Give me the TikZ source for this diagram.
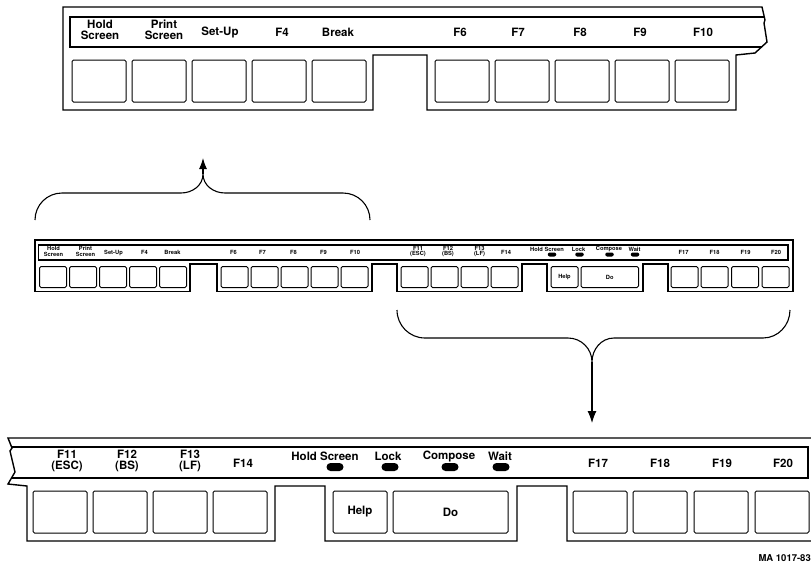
\documentclass[tikz,border=0pt]{standalone}
\usepackage{fontspec}
\setmainfont{TeX Gyre Heros}
\usetikzlibrary{arrows.meta,shapes.misc}

\tikzset{
  frame/.style={line width=1.4pt, line join=miter},
  key/.style={draw, line width=1pt, rounded corners=1.5pt, minimum width=54pt, minimum height=42pt,
    inner sep=0pt, font=\bfseries\fontsize{11.5}{11.5}\selectfont},
  keylabel/.style={font=\bfseries\fontsize{11.5}{11.5}\selectfont, align=center, inner sep=0pt},
  led/.style={rounded rectangle, fill=black, minimum width=17pt, minimum height=8pt, inner sep=0pt},
  brace/.style={line width=1.1pt},
}

% keys F1..F10 with their labels
\newcommand\leftkeys{%
  \foreach \kx [count=\i] in {9,69,129,189,249,372,432,492,552,612}
    \node[key] (k\i) at (\kx+27,-74) {};
  \node[keylabel] (l1) at (37,-23) {Hold\\Screen};
  \node[keylabel] (l2) at (101,-23) {Print\\Screen};
  \foreach \lx/\kl [count=\i from 3] in {157/Set-Up,219/F4,275/Break,397/F6,455/F7,517/F8,577/F9,640/F10}
    \node[keylabel] (l\i) at (\lx,-25) {\kl};
}

% keys F11..F20, Help, Do and the lights
\newcommand\rightkeys{%
  \foreach \kx [count=\i from 11] in {732,792,852,912,1272,1332,1393,1454}
    \node[key] (k\i) at (\kx+27,-74) {};
  \node[key] (help) at (1059,-74) {Help};
  \node[key, minimum width=115pt] (do) at (1149.5,-74) {Do};
  \foreach \lx/\kl [count=\i from 11] in {766/{F11\\(ESC)},826/{F12\\(BS)},889/{F13\\(LF)}}
    \node[keylabel] (l\i) at (\lx,-23) {\kl};
  \foreach \lx/\kl [count=\i from 14] in {942/F14,1297/F17,1359/F18,1421/F19,1482/F20}
    \node[keylabel] (l\i) at (\lx,-25) {\kl};
  \foreach \lx/\dx/\kl [count=\i] in {1024/1034/Hold Screen,1087/1089/Lock,1148/1149/Compose,1199/1200/Wait} {
    \node[keylabel] (t\i) at (\lx,-18) {\kl};
    \node[led] (led\i) at (\dx,-29) {};
  }
}

\begin{document}
\begin{tikzpicture}[x=1pt,y=1pt]
  \useasboundingbox (0,0) rectangle (811,-565);

  % top: left half, full size
  \begin{scope}[shift={(63,-7)}, name prefix=top-]
    \draw[frame] (699,0) -- (0,0) -- (0,-103) -- (310,-103) -- (310,-48) -- (364,-48) -- (364,-103)
      -- (673,-103) -- (673,-48) -- (692,-46) -- (704,-35) -- (701,-16) -- (702,-13) -- cycle;
    \draw[frame] (701,-10) -- (7,-10) -- (7,-40) -- (698.5,-40);
    \leftkeys
  \end{scope}

  % middle: whole row, half size
  \begin{scope}[shift={(35,-240)}, scale=0.5, transform shape, name prefix=mid-]
    \draw[frame] (0,0) -- (0,-103) -- (310,-103) -- (310,-48) -- (364,-48) -- (364,-103)
      -- (674,-103) -- (674,-48) -- (724,-48) -- (724,-103) -- (974,-103) -- (974,-48)
      -- (1024,-48) -- (1024,-103) -- (1216,-103) -- (1216,-48) -- (1266,-48) -- (1266,-103)
      -- (1516,-103) -- (1516,0) -- cycle;
    \draw[frame] (7,-10) rectangle (1506,-40);
    \leftkeys
    \rightkeys
  \end{scope}

  % bottom: right half, full size
  \begin{scope}[shift={(-699,-438)}, name prefix=bot-]
    \draw[frame] (1515,0) -- (707,0) -- (711,-10) -- (709,-13) -- (714,-34) -- (707,-46) -- (726,-48)
      -- (726,-103) -- (974,-103) -- (974,-48) -- (1024,-48) -- (1024,-103) -- (1216,-103)
      -- (1216,-48) -- (1266,-48) -- (1266,-103) -- (1515,-103);
    \draw[frame] (710.6,-9) -- (1507,-9) -- (1507,-40) -- (710.5,-40);
    \rightkeys
  \end{scope}

  % braces
  \coordinate (up-l) at (35,-220);
  \coordinate (up-m) at (203,-174);
  \coordinate (up-r) at (370,-220);
  \coordinate (up-tip) at (203,-158);
  \draw[brace] (up-l) to[out=90,in=180] (62,-193) -- (181,-193) to[out=0,in=-90] (up-m)
    to[out=-90,in=180] (225,-193) -- (343,-193) to[out=0,in=90] (up-r);
  \draw[brace,-{Latex[length=11pt,width=8pt]}] (up-m) -- (up-tip);

  \coordinate (lo-l) at (397,-310);
  \coordinate (lo-m) at (592,-362);
  \coordinate (lo-r) at (790,-310);
  \coordinate (lo-tip) at (592,-423);
  \draw[brace] (lo-l) to[out=-90,in=180] (425,-338) -- (568,-338) to[out=0,in=90] (lo-m)
    to[out=90,in=180] (614,-338) -- (763,-338) to[out=0,in=-90] (lo-r);
  \draw[brace,-{Latex[length=12pt,width=9pt]}] (lo-m) -- (lo-tip);

  \node[anchor=east, inner sep=0pt, font=\bfseries\fontsize{9.5}{10}\selectfont] (ref) at (811,-558) {MA 1017-83};
\end{tikzpicture}
\end{document}
